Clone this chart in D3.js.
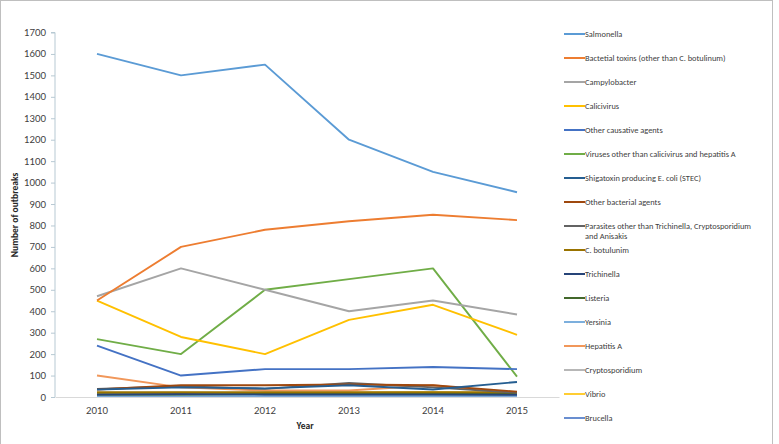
<!DOCTYPE html>
<html><head><meta charset="utf-8">
<script src="https://cdn.jsdelivr.net/npm/d3@7"></script>
<style>
body{margin:0;background:#fff;}
svg{display:block;font-family:Carlito,Lato,"Liberation Sans",sans-serif;}
</style></head>
<body><svg id="c" width="779" height="444"></svg>
<script>
const years = ["2010","2011","2012","2013","2014","2015"];
const yTicks = [0,100,200,300,400,500,600,700,800,900,1000,1100,1200,1300,1400,1500,1600,1700];
const seriesNames = [
  "Salmonella",
  "Bactetial toxins (other than C. botulinum)",
  "Campylobacter",
  "Calicivirus",
  "Other causative agents",
  "Viruses other than calicivirus and hepatitis A",
  "Shigatoxin producing E. coli (STEC)",
  "Other bacterial agents",
  "Parasites other than Trichinella, Cryptosporidium|and Anisakis",
  "C. botulunim",
  "Trichinella",
  "Listeria",
  "Yersinia",
  "Hepatitis A",
  "Cryptosporidium",
  "Vibrio",
  "Brucella"
];
const seriesColors = ["#5B9BD5","#ED7D31","#A5A5A5","#FFC000","#4472C4","#70AD47","#255E91","#9E480E","#636363","#997300","#264478","#43682B","#7CAFDD","#F1975A","#B7B7B7","#FFCD33","#698ED0"];
const salmonella     = [1600,1500,1550,1200,1050,955];
const bactToxins     = [450,700,780,820,850,825];
const campylobacter  = [470,600,500,400,450,385];
const calicivirus    = [450,280,200,360,430,290];
const otherCausative = [240,100,130,130,140,130];
const viruses        = [270,200,500,550,600,95];
const stec           = [35,45,40,55,35,70];
const otherBacterial = [35,55,55,58,55,25];
const parasites      = [38,50,38,65,45,20];
const cBotulinum     = [22,22,22,22,22,22];
const trichinella    = [12,14,12,12,12,10];
const listeria       = [12,12,14,15,15,14];
const yersinia       = [6,6,6,6,6,6];
const hepatitisA     = [100,45,30,30,55,15];
const cryptosporidium= [10,10,10,10,10,8];
const vibrio         = [18,20,18,20,22,18];
const brucella       = [4,4,4,4,4,4];
const seriesValues = [salmonella,bactToxins,campylobacter,calicivirus,otherCausative,viruses,stec,otherBacterial,parasites,cBotulinum,trichinella,listeria,yersinia,hepatitisA,cryptosporidium,vibrio,brucella];

const svg = d3.select("#c");
// outer border
svg.append("rect").attr("x",0.5).attr("y",0.5).attr("width",772).attr("height",460)
  .attr("fill","none").attr("stroke","#bfbfbf");

const x = d3.scaleBand().domain(years).range([55,559]);
const y = d3.scaleLinear().domain([0,1700]).range([397,32.5]);

// y axis
const ya = svg.append("g").attr("transform","translate(55,0)")
  .call(d3.axisLeft(y).tickValues(yTicks).tickFormat(d3.format("d")).tickSize(4).tickPadding(5));
ya.select(".domain").attr("stroke","#b7c9d3").attr("d","M-4,"+y(1700)+"H0V"+y(0));
ya.selectAll(".tick line").attr("stroke","#b7c9d3");
ya.selectAll(".tick text").attr("fill","#404040").style("font-size","9.5px").style("font-family","Lato,Carlito,sans-serif");

// x axis
const xa = svg.append("g").attr("transform","translate(0,397)")
  .call(d3.axisBottom(x).tickSize(0).tickPadding(10));
xa.select(".domain").attr("stroke","#d9d9d9");
xa.selectAll(".tick text").attr("fill","#404040").style("font-size","9.5px").style("font-family","Lato,Carlito,sans-serif");

// axis titles
svg.append("text").attr("x",305).attr("y",429).attr("text-anchor","middle")
  .style("font-size","9.5px").style("font-weight","bold").attr("fill","#262626").text("Year");
svg.append("text").attr("transform","translate(18,215) rotate(-90)").attr("text-anchor","middle")
  .style("font-size","9.5px").style("font-weight","bold").attr("fill","#262626").text("Number of outbreaks");

// lines (draw later series first so main ones on top)
const line = d3.line().x((d,i)=>x(years[i])+x.bandwidth()/2).y(d=>y(d));
const order = d3.range(seriesValues.length).reverse();
svg.append("g").selectAll("path").data(order).join("path")
  .attr("d",i=>line(seriesValues[i]))
  .attr("fill","none").attr("stroke",i=>seriesColors[i]).attr("stroke-width",1.9)
  .attr("stroke-linejoin","round");

// legend
const lg = svg.append("g");
seriesNames.forEach((n,i)=>{
  const yy = 34 + i*24;
  lg.append("line").attr("x1",564).attr("x2",585).attr("y1",yy).attr("y2",yy)
    .attr("stroke",seriesColors[i]).attr("stroke-width",2);
  const parts = n.split("|");
  parts.forEach((p,j)=>{
    lg.append("text").attr("x",585).attr("y",yy+3+j*10).style("font-size","8.4px")
      .attr("fill","#404040").text(p);
  });
});
</script></body></html>
